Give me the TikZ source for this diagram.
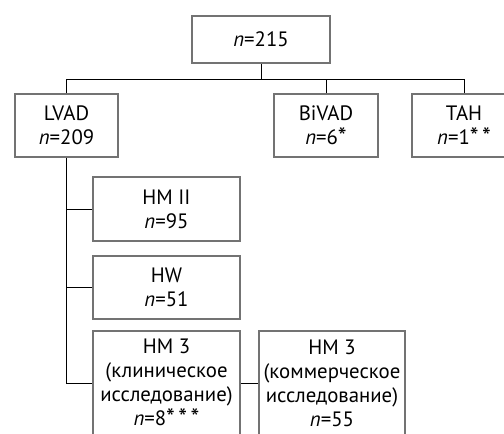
\documentclass[tikz,border=0pt]{standalone}
\usepackage{fontspec}
\setmainfont{PT Sans}
\usepackage{tikz}

\newcommand{\footast}{\raisebox{-0.1ex}{\fontsize{25}{25}\selectfont*}}

\begin{document}
\begin{tikzpicture}[x=1pt,y=-1pt,
    box/.style={draw=black!55, line width=1.5pt, fill=white, align=center,
      inner sep=0pt, font=\fontsize{20.8}{24}\selectfont},
    link/.style={line width=0.9pt}]

    \clip (0,0) rectangle (504,434);

    \node[box, minimum width=138pt, minimum height=47pt] (root) at (261,39.5) {\textit{n}=215};

    \node[box, minimum width=103pt, minimum height=63pt] (lvad)  at (66.5,125.5) {LVAD\\\textit{n}=209};
    \node[box, minimum width=104pt, minimum height=63pt] (bivad) at (326,125.5)  {BiVAD\\\textit{n}=6\footast};
    \node[box, minimum width=104pt, minimum height=63pt] (tah)   at (464,125.5)  {TAH\\\textit{n}=1\footast\,\footast};

    \node[box, minimum width=147pt, minimum height=64pt] (hmii) at (166.5,209)   {HM II\\\textit{n}=95};
    \node[box, minimum width=147pt, minimum height=63pt] (hw)   at (166.5,287.5) {HW\\\textit{n}=51};
    \node[box, minimum width=147pt, minimum height=104pt] (hmclin) at (166.5,383)
      {HM 3\\(клиническое\\исследование)\\\textit{n}=8\footast\,\footast\,\footast};
    \node[box, minimum width=146pt, minimum height=104pt] (hmcom) at (332,383)
      {HM 3\\(коммерческое\\исследование)\\\textit{n}=55};

    % tree
    \coordinate (bus) at (0,79);
    \draw[link] (root.south) -- (root.south |- bus);
    \draw[link] (lvad.north) -- (lvad.north |- bus) -| (tah.north);
    \draw[link] (bivad.north) -- (bivad.north |- bus);

    \draw[link] (lvad.south) -- (lvad.south |- hmclin.west) -- (hmclin.west);
    \draw[link] (hmii.west) -- (hmii.west -| lvad.south);
    \draw[link] (hw.west) -- (hw.west -| lvad.south);
    \draw[link] (hmclin.east) -- (hmcom.west);

\end{tikzpicture}
\end{document}
